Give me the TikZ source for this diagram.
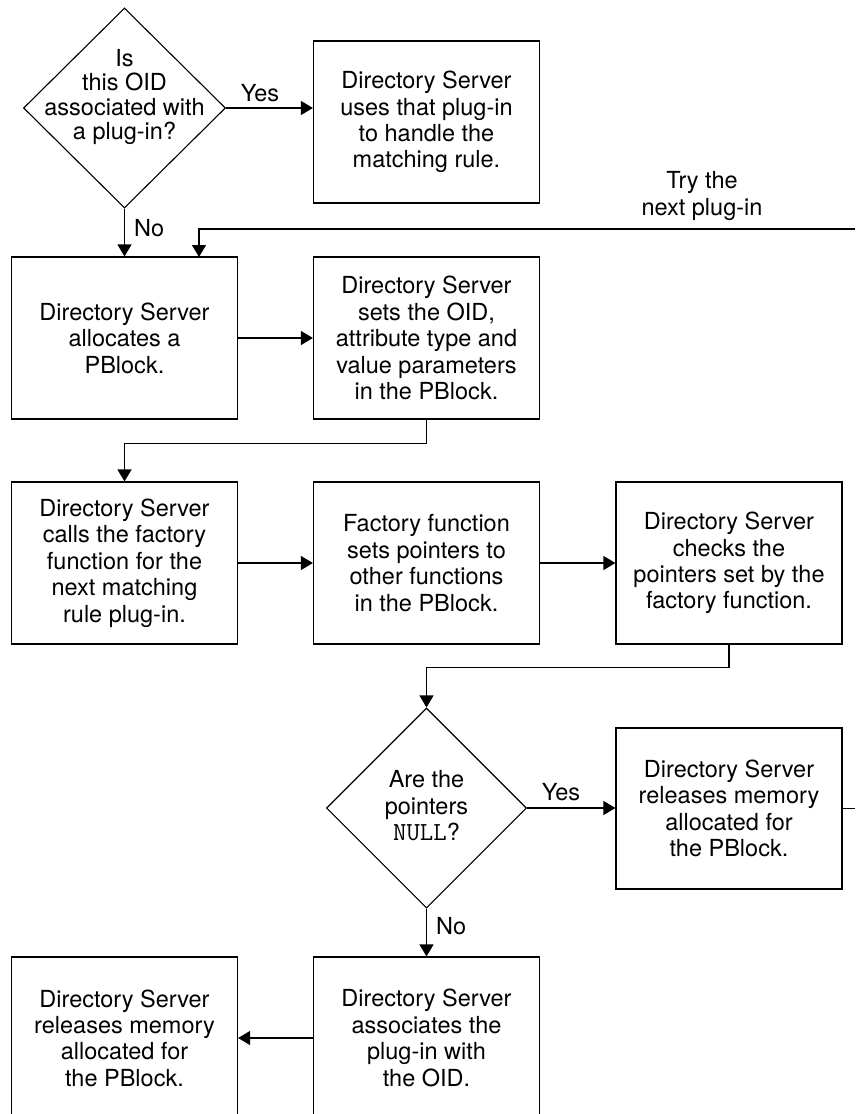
\documentclass[tikz,border=0pt]{standalone}
\usepackage{fontspec}
\setmainfont{TeX Gyre Heros}
\usetikzlibrary{shapes.geometric,arrows.meta}
\begin{document}
\begin{tikzpicture}[x=1pt,y=-1pt,
  every node/.style={font=\fontsize{23.5}{26.4}\selectfont},
  box/.style={draw, line width=1.2pt, minimum width=226pt, minimum height=162pt, inner sep=0pt, align=center},
  dia/.style={draw, diamond, line width=1.1pt, minimum width=202pt, minimum height=200pt, inner sep=0pt},
  lbl/.style={inner sep=0pt, align=center},
  conn/.style={line width=1.2pt},
  arr/.style={conn, -{Triangle[length=12pt,width=14pt]}}]
\useasboundingbox (0,0) rectangle (855,1114);

% row 1
\node[dia] (d1) at (124.5,108) {};
\node[lbl, font=\fontsize{23.5}{24.5}\selectfont] (t1) at (124.5,97) {Is\\this OID\\associated with\\a plug-in?};
\node[box] (b1) at (426.5,122) {Directory Server\\uses that plug-in\\to handle the\\matching rule.};

% row 2
\node[box] (A) at (124.5,338) {Directory Server\\allocates a\\PBlock.};
\node[box] (B) at (426.5,338) {Directory Server\\sets the OID,\\attribute type and\\value parameters\\in the PBlock.};

% row 3
\node[box] (C) at (124.5,563) {Directory Server\\calls the factory\\function for the\\next matching\\rule plug-in.};
\node[box] (D) at (426.5,563) {Factory function\\sets pointers to\\other functions\\in the PBlock.};
\node[box] (E) at (729,563) {Directory Server\\checks the\\pointers set by the\\factory function.};

% row 4
\node[dia, minimum width=200pt] (d2) at (426.5,808) {};
\node[lbl, font=\fontsize{23.5}{26.5}\selectfont] (t2) at (426.5,806) {Are the\\pointers\\{\fontsize{26}{26.5}\ttfamily NULL}?};
\node[box, minimum height=161pt] (F) at (729,808.5) {Directory Server\\releases memory\\allocated for\\the PBlock.};

% row 5
\node[box] (G) at (426.5,1038) {Directory Server\\associates the\\plug-in with\\the OID.};
\node[box] (H) at (124.5,1038) {Directory Server\\releases memory\\allocated for\\the PBlock.};

% labels
\node[lbl, anchor=base] (yes1) at (260,101) {Yes};
\node[lbl, anchor=west] (no1) at (134,228) {No};
\node[lbl, anchor=base] (yes2) at (561,800) {Yes};
\node[lbl, anchor=west] (no2) at (436,926) {No};
\node[lbl] (try) at (702,196) {Try the\\next plug-in};

% free ends
\coordinate (tryR) at (855,229);
\coordinate (tryA) at (199,257);
\coordinate (edgeF) at (855,808.5);

% connectors
\draw[arr] (d1.east) -- (d1.east -| b1.west);
\draw[arr] (d1.south) -- (A.north);
\draw[arr] (tryR) -| (tryA);
\draw[arr] (A.east) -- (B.west);
\draw[arr] (B.south) -- ++(0,24) -| (C.north);
\draw[arr] (C.east) -- (D.west);
\draw[arr] (D.east) -- (E.west);
\draw[arr] (E.south) -- ++(0,23) -| (d2.north);
\draw[arr] (d2.east) -- (d2.east -| F.west);
\draw[conn] (F.east) -- (edgeF);
\draw[arr] (d2.south) -- (G.north);
\draw[arr] (G.west) -- (H.east);
\end{tikzpicture}
\end{document}
